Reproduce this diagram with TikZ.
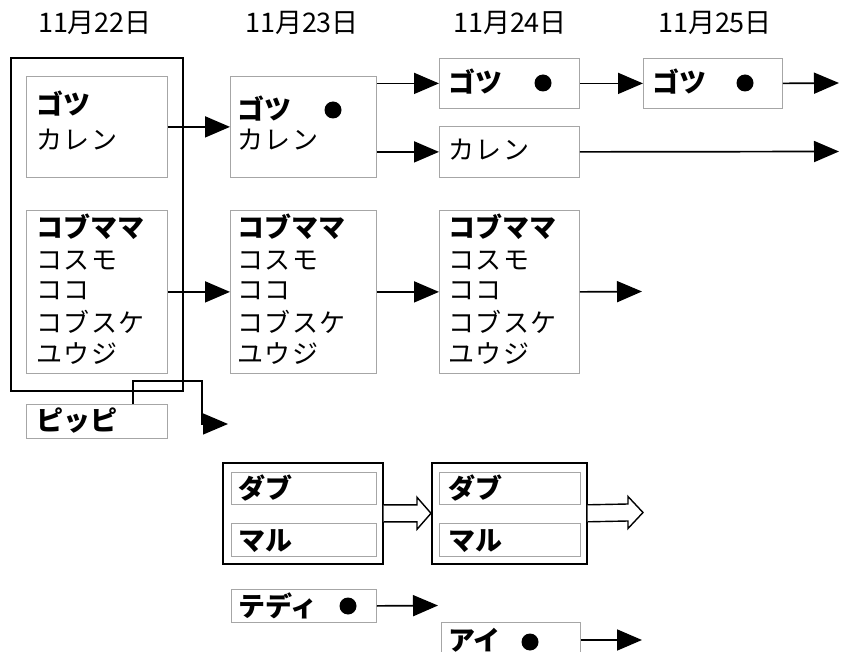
\documentclass[tikz,border=0pt]{standalone}
\usepackage{fontspec}
\newfontfamily\jp{Noto Sans CJK JP}
\newfontfamily\jpw[LetterSpace=6]{Noto Sans CJK JP}
\usetikzlibrary{arrows.meta,calc}

\tikzset{
  outerbox/.style={draw=black, line width=1.6pt, inner sep=0pt, anchor=north west},
  innerbox/.style={draw=black!35, line width=0.8pt, inner sep=0pt, anchor=north west},
  lbl/.style={font=\jpw\fontsize{26}{26}\selectfont, inner sep=0pt, anchor=base west},
  blbl/.style={font=\jp\bfseries\fontsize{27}{27}\selectfont, inner sep=0pt, anchor=base west},
  daylbl/.style={font=\jp\fontsize{27}{27}\selectfont, inner sep=0pt, anchor=base},
  spot/.style={circle, fill=black, inner sep=0pt, minimum size=17pt},
  flow/.style={line width=1.7pt, -{Triangle[length=25pt,width=21pt]}},
  thinflow/.style={line width=1.2pt, -{Triangle[length=25pt,width=21pt]}},
  hollow/.style={draw=black, line width=1.4pt, fill=white, line join=miter},
}

\begin{document}
\begin{tikzpicture}[x=1pt,y=-1pt]
\useasboundingbox (0,0) rectangle (841,652);
\fill[white] (0,0) rectangle (841,652);
\clip (0,0) rectangle (841,652);

% dates
\node[daylbl] (d22) at (95,33) {11月22日};
\node[daylbl] (d23) at (302,33) {11月23日};
\node[daylbl] (d24) at (510,33) {11月24日};
\node[daylbl] (d25) at (715,33) {11月25日};

% 11/22
\node[outerbox, minimum width=172pt, minimum height=333pt] (o1) at (10,57) {};
\node[innerbox, minimum width=141pt, minimum height=101pt] (c1a) at (26,76) {};
\node[innerbox, minimum width=141pt, minimum height=163pt] (c1b) at (26,210) {};
\node[innerbox, minimum width=141pt, minimum height=34pt] (pp) at (26,404) {};
\node[blbl] (t1a) at (36,115) {ゴツ};
\node[lbl]  (t1b) at (36,150) {カレン};
\node[blbl] (t1c) at (36,238) {コブママ};
\node[lbl]  (t1d) at (36,270) {コスモ};
\node[lbl]  (t1e) at (36,300) {ココ};
\node[lbl]  (t1f) at (36,333) {コブスケ};
\node[lbl]  (t1g) at (36,363) {ユウジ};
\node[blbl] (t1h) at (36,430) {ピッピ};

% 11/23
\node[innerbox, minimum width=146pt, minimum height=101pt] (c2a) at (230,76) {};
\node[innerbox, minimum width=146pt, minimum height=163pt] (c2b) at (230,210) {};
\node[blbl] (t2a) at (237,120) {ゴツ};
\node[spot] (s2a) at (333,110) {};
\node[lbl]  (t2b) at (237,150) {カレン};
\node[blbl] (t2c) at (237,238) {コブママ};
\node[lbl]  (t2d) at (237,270) {コスモ};
\node[lbl]  (t2e) at (237,300) {ココ};
\node[lbl]  (t2f) at (237,333) {コブスケ};
\node[lbl]  (t2g) at (237,363) {ユウジ};

% 11/24
\node[innerbox, minimum width=140pt, minimum height=50pt] (c3g) at (439,58) {};
\node[innerbox, minimum width=140pt, minimum height=51pt] (c3k) at (439,126) {};
\node[innerbox, minimum width=140pt, minimum height=163pt] (c3b) at (439,210) {};
\node[blbl] (t3a) at (448,93) {ゴツ};
\node[spot] (s3a) at (543,83) {};
\node[lbl]  (t3b) at (448,160) {カレン};
\node[blbl] (t3c) at (448,238) {コブママ};
\node[lbl]  (t3d) at (448,270) {コスモ};
\node[lbl]  (t3e) at (448,300) {ココ};
\node[lbl]  (t3f) at (448,333) {コブスケ};
\node[lbl]  (t3g) at (448,363) {ユウジ};

% 11/25
\node[innerbox, minimum width=139pt, minimum height=50pt] (c4g) at (643,58) {};
\node[blbl] (t4a) at (652,93) {ゴツ};
\node[spot] (s4a) at (745,83) {};

% pairs
\node[outerbox, minimum width=160pt, minimum height=101pt] (d2) at (222,462) {};
\node[innerbox, minimum width=145pt, minimum height=32pt] (d2a) at (231,472) {};
\node[innerbox, minimum width=145pt, minimum height=33pt] (d2b) at (231,523) {};
\node[blbl] (t5a) at (238,498) {ダブ};
\node[blbl] (t5b) at (238,550) {マル};
\node[outerbox, minimum width=155pt, minimum height=101pt] (d3) at (431,462) {};
\node[innerbox, minimum width=141pt, minimum height=32pt] (d3a) at (439,472) {};
\node[innerbox, minimum width=141pt, minimum height=33pt] (d3b) at (439,523) {};
\node[blbl] (t6a) at (448,498) {ダブ};
\node[blbl] (t6b) at (448,550) {マル};

% singles
\node[innerbox, minimum width=145pt, minimum height=33pt] (td) at (231,589) {};
\node[blbl] (t7a) at (238,616) {テディ};
\node[spot] (s7a) at (348,606) {};
\node[innerbox, minimum width=139pt, minimum height=40pt] (ai) at (441,622) {};
\node[blbl] (t8a) at (448,650) {アイ};
\node[spot] (s8a) at (530,642) {};

% free ends
\coordinate (e1) at (839,83);
\coordinate (e2) at (839,151.5);
\coordinate (e3) at (642,291.5);
\coordinate (e4) at (438,605.5);
\coordinate (e5) at (642,640);
\coordinate (e6) at (643,512.5);
\coordinate (ppbend) at (202,381);
\coordinate (ppend) at (228,424);

% connectors
\draw[flow] (c1a.east) -- (c2a.west);
\draw[flow] (c1b.east) -- (c2b.west);
\draw[flow] (c2a.east |- c3g.west) -- (c3g.west);
\draw[flow] (c2a.east |- c3k.west) -- (c3k.west);
\draw[flow] (c2b.east) -- (c3b.west);
\draw[flow] (c3g.east) -- (c4g.west);
\draw[flow] (c4g.east) -- (e1);
\draw[flow] (c3k.east) -- (e2);
\draw[flow] (c3b.east) -- (e3);
\draw[flow] (td.east) -- (e4);
\draw[flow] (ai.east |- e5) -- (e5);
\draw[thinflow] ($(pp.north west)+(107,0)$) |- (ppbend) |- (ppend);

% hollow arrows
\draw[hollow] ($(d2.east)+(0,-8.5)$) -- ($(d3.west)+(-14,-8.5)$) -- ($(d3.west)+(-14,-16)$)
  -- (d3.west) -- ($(d3.west)+(-14,16)$) -- ($(d3.west)+(-14,8.5)$) -- ($(d2.east)+(0,8.5)$);
\draw[hollow] ($(d3.east)+(0,-8.5)$) -- ($(e6)+(-15,-8.5)$) -- ($(e6)+(-15,-16)$)
  -- (e6) -- ($(e6)+(-15,16)$) -- ($(e6)+(-15,8.5)$) -- ($(d3.east)+(0,8.5)$);
\end{tikzpicture}
\end{document}
